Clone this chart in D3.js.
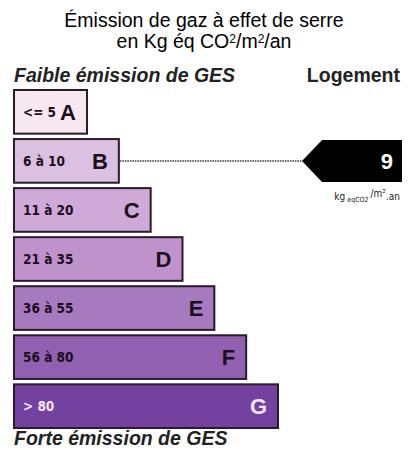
<!DOCTYPE html>
<html><head><meta charset="utf-8">
<script src="https://cdn.jsdelivr.net/npm/d3@7"></script>
<style>body{margin:0;background:#fff}svg{display:block}</style>
</head><body>
<script>
const classes = ["A","B","C","D","E","F","G"];
const ranges = ["<= 5","6 à 10","11 à 20","21 à 35","36 à 55","56 à 80","> 80"];
const colors = ["#f6e7f1","#dcc0e1","#cfa9d8","#bf92cc","#a77ac0","#9160b0","#7441a0"];
const textColors = ["#1a0f1a","#1a0f1a","#1a0f1a","#1a0f1a","#1a0f1a","#1a0f1a","#f3e6f3"];
const value = 9;
const valueClass = "B";

const W = 409, H = 450;
const svg = d3.select("body").append("svg").attr("width", W).attr("height", H);

const y = d3.scaleBand().domain(classes).range([90, 428]).paddingInner(0.11).paddingOuter(0);
const x = d3.scaleLinear().domain([0, 6]).range([87, 278]);
const x0 = 14;
const FF = "Liberation Sans, Arial, sans-serif";

// Title
const t = svg.append("g").attr("font-family",FF).attr("fill","#000").attr("text-anchor","middle");
t.append("text").attr("x",204).attr("y",27).attr("font-size",19.5).text("Émission de gaz à effet de serre");
const t2 = t.append("text").attr("x",204).attr("y",48).attr("font-size",19.5);
t2.append("tspan").text("en Kg éq CO");
t2.append("tspan").attr("font-size",12).attr("dy",-5).text("2");
t2.append("tspan").attr("dy",5).text("/m");
t2.append("tspan").attr("font-size",12).attr("dy",-5).text("2");
t2.append("tspan").attr("dy",5).text("/an");

svg.append("text").attr("x",14).attr("y",82).attr("font-family",FF)
  .attr("font-weight","bold").attr("font-style","italic").attr("font-size",19.5).attr("fill","#222")
  .text("Faible émission de GES");
svg.append("text").attr("x",400).attr("y",82).attr("text-anchor","end").attr("font-family",FF)
  .attr("font-weight","bold").attr("font-size",19.5).attr("fill","#222").text("Logement");
svg.append("text").attr("x",14).attr("y",445).attr("font-family",FF)
  .attr("font-weight","bold").attr("font-style","italic").attr("font-size",19.5).attr("fill","#222")
  .text("Forte émission de GES");

const rows = svg.selectAll("g.row").data(classes).join("g").attr("class","row");
rows.append("rect")
  .attr("x", x0).attr("y", d => y(d))
  .attr("width", (d,i) => x(i) - x0).attr("height", y.bandwidth())
  .attr("fill", (d,i) => colors[i]).attr("stroke","#2b1a2b").attr("stroke-width",2);
rows.append("text")
  .attr("x", x0 + 9).attr("y", d => y(d) + y.bandwidth()/2 + 5)
  .attr("font-family","DejaVu Sans Condensed, Liberation Sans, sans-serif").attr("font-weight","bold")
  .attr("font-size",13.5).attr("fill",(d,i)=>textColors[i])
  .text((d,i) => ranges[i]);
rows.append("text")
  .attr("x", (d,i) => x(i) - 11).attr("y", d => y(d) + y.bandwidth()/2 + 8)
  .attr("text-anchor","end")
  .attr("font-family",FF).attr("font-weight","bold")
  .attr("font-size",22).attr("fill",(d,i)=>textColors[i])
  .text(d => d);

// value marker
const vi = classes.indexOf(valueClass);
const cy = y(valueClass) + y.bandwidth()/2;
const tipX = 302, boxR = 402, half = 21;
svg.append("line").attr("x1", x(vi) + 1).attr("x2", tipX).attr("y1", cy).attr("y2", cy)
  .attr("stroke","#333").attr("stroke-width",1.5).attr("stroke-dasharray","1.5,1");
svg.append("path")
  .attr("d", `M${tipX},${cy} L${tipX+20},${cy-half} L${boxR},${cy-half} L${boxR},${cy+half} L${tipX+20},${cy+half} Z`)
  .attr("fill","#000");
svg.append("text").attr("x", boxR - 9).attr("y", cy + 8).attr("text-anchor","end")
  .attr("font-family",FF).attr("font-weight","bold").attr("font-size",22)
  .attr("fill","#fff").text(value);
const u = svg.append("text").attr("x", 400).attr("y", 200).attr("text-anchor","end")
  .attr("font-family","DejaVu Sans Condensed, Liberation Sans, sans-serif").attr("font-size",10).attr("fill","#222");
u.append("tspan").text("kg");
u.append("tspan").attr("font-size",7).attr("dy",2).text(" eqCO2 ");
u.append("tspan").attr("dy",-5).text("/m²");
u.append("tspan").attr("dy",3).text(".an");
</script>
</body></html>
